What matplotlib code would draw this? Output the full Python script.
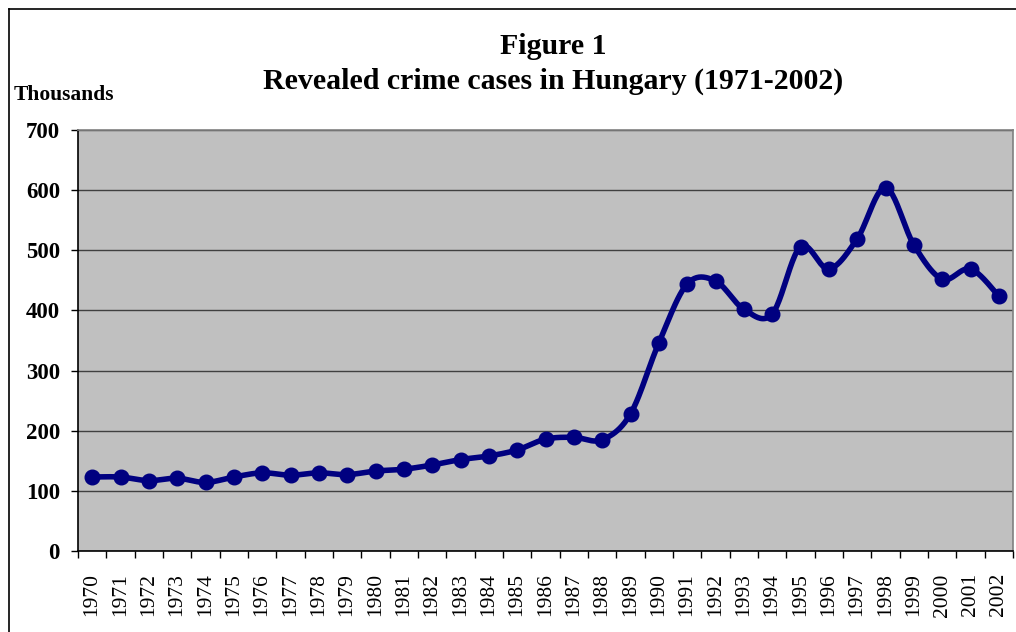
import numpy as np
import matplotlib
matplotlib.use("Agg")
import matplotlib.pyplot as plt
from matplotlib.ticker import FixedLocator

years = [str(y) for y in range(1970, 2003)]
cases_thousands = [123, 123, 117, 121, 114, 123, 130, 126, 130, 127, 133, 136,
                   143, 152, 158, 168, 186, 189, 185, 228, 346, 444, 449, 402,
                   394, 506, 469, 519, 604, 509, 452, 469, 424]
y_ticks = [0, 100, 200, 300, 400, 500, 600, 700]

title_line1 = "Figure 1"
title_line2 = "Revealed crime cases in Hungary (1971-2002)"
y_unit = "Thousands"

W, H = 1016, 632
fig = plt.figure(figsize=(W / 100, H / 100), dpi=100)
fig.patch.set_facecolor("white")

ax = fig.add_axes([78 / W, 1 - 551 / H, (1013 - 78) / W, (551 - 130) / H])
ax.set_facecolor("#C0C0C0")

serif = ["Liberation Serif", "DejaVu Serif"]

# smoothed line (Catmull-Rom style Bezier, like spreadsheet "smoothed line")
x = np.arange(len(cases_thousands), dtype=float)
yv = np.array(cases_thousands, dtype=float)
n = len(x)
xs, ys = [], []
t = np.linspace(0, 1, 25)
for i in range(n - 1):
    p0 = np.array([x[i], yv[i]])
    p3 = np.array([x[i + 1], yv[i + 1]])
    pm = np.array([x[i - 1], yv[i - 1]]) if i > 0 else p0
    pp = np.array([x[i + 2], yv[i + 2]]) if i + 2 < n else p3
    p1 = p0 + (p3 - pm) / 6.0
    p2 = p3 - (pp - p0) / 6.0
    b = ((1 - t) ** 3)[:, None] * p0 + (3 * (1 - t) ** 2 * t)[:, None] * p1 \
        + (3 * (1 - t) * t ** 2)[:, None] * p2 + (t ** 3)[:, None] * p3
    xs.extend(b[:, 0])
    ys.extend(b[:, 1])

ax.plot(xs, ys, color="#000080", lw=4.0, solid_capstyle="round",
        solid_joinstyle="round", zorder=3)
ax.plot(x, yv, linestyle="none", marker="o", markersize=10.5,
        color="#000080", zorder=4)

ax.set_xlim(-0.5, n - 0.5)
ax.set_ylim(0, 700)

ax.set_yticks(y_ticks)
ax.set_yticklabels([str(v) for v in y_ticks], fontfamily=serif,
                   fontweight="bold", fontsize=16.5)
ax.yaxis.grid(True, color="#404040", lw=1.0)
ax.set_axisbelow(True)

ax.set_xticks(x)
ax.set_xticklabels(years, rotation=90, fontfamily=serif, fontsize=15.5)
ax.xaxis.set_minor_locator(FixedLocator(np.arange(-0.5, n, 1.0)))
ax.tick_params(axis="x", which="major", length=0, pad=16)
ax.tick_params(axis="x", which="minor", length=5, width=1, color="black")
ax.tick_params(axis="y", which="major", length=5, width=1, color="black", pad=8)

for s in ["left", "bottom"]:
    ax.spines[s].set_color("black")
    ax.spines[s].set_linewidth(1.2)
for s in ["top", "right"]:
    ax.spines[s].set_color("#808080")
    ax.spines[s].set_linewidth(1.2)

fig.text(553 / W, 1 - 54 / H, title_line1, ha="center", va="baseline",
         fontfamily=serif, fontweight="bold", fontsize=21.5)
fig.text(553 / W, 1 - 89 / H, title_line2, ha="center", va="baseline",
         fontfamily=serif, fontweight="bold", fontsize=21.5)
fig.text(14 / W, 1 - 100 / H, y_unit, ha="left", va="baseline",
         fontfamily=serif, fontweight="bold", fontsize=15.5)

# outer chart-area frame (top and left edges visible)
fig.add_artist(plt.Line2D([9 / W, 1.0], [1 - 9 / H, 1 - 9 / H],
                          transform=fig.transFigure, color="black", lw=1.2))
fig.add_artist(plt.Line2D([9 / W, 9 / W], [1 - 9 / H, 0.0],
                          transform=fig.transFigure, color="black", lw=1.2))

fig.savefig("out.png", dpi=100, facecolor="white")
